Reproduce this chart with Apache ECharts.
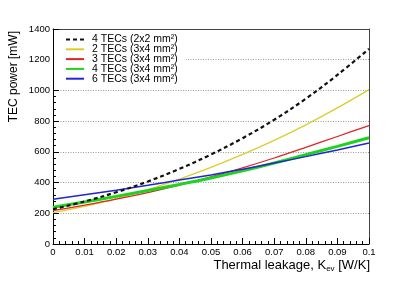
<!DOCTYPE html>
<html>
<head>
<meta charset="utf-8">
<script src="https://cdn.jsdelivr.net/npm/echarts@6/dist/echarts.min.js"></script>
<style>
html,body{margin:0;padding:0;background:#fff;}
#c{width:411px;height:281px;}
</style>
</head>
<body>
<div id="c"></div>
<script>
// Data
var xValues = [0, 0.01, 0.02, 0.03, 0.04, 0.05, 0.06, 0.07, 0.08, 0.09, 0.1];
var seriesNames = ['4 TECs (2x2 mm²)', '2 TECs (3x4 mm²)', '3 TECs (3x4 mm²)', '4 TECs (3x4 mm²)', '6 TECs (3x4 mm²)'];
var tec4small = [226, 277, 337, 407, 489, 583, 689, 809, 946, 1101, 1271];
var tec2 = [204, 245, 296, 354, 423, 499, 583, 675, 776, 886, 1005];
var tec3 = [217, 253, 292, 335, 383, 437, 496, 560, 629, 700, 771];
var tec4 = [239, 274, 310, 348, 388, 430, 476, 527, 581, 636, 692];
var tec6 = [291, 320, 350, 382, 416, 450, 487, 527, 569, 612, 658];
var xTicks = ['0', '0.01', '0.02', '0.03', '0.04', '0.05', '0.06', '0.07', '0.08', '0.09', '0.1'];
var yTicks = ['0', '200', '400', '600', '800', '1000', '1200', '1400'];

function pairs(ys) { return xValues.map(function (x, i) { return [x, ys[i]]; }); }

var FONT = 'Liberation Sans';
var chart = echarts.init(document.getElementById('c'), null, {renderer: 'canvas'});

var styles = [
  {color: '#111111', width: 2.2, type: [4, 3]},
  {color: '#d8cf2c', width: 1.3, type: 'solid'},
  {color: '#e02424', width: 1.3, type: 'solid'},
  {color: '#1ed21e', width: 3, type: 'solid'},
  {color: '#2424d0', width: 1.5, type: 'solid'}
];
var dataSets = [tec4small, tec2, tec3, tec4, tec6];

var series = dataSets.map(function (d, i) {
  return {
    name: seriesNames[i],
    type: 'line',
    data: pairs(d),
    smooth: 0.35,
    symbol: 'none',
    color: styles[i].color,
    lineStyle: {color: styles[i].color, width: styles[i].width, type: styles[i].type},
    z: 3 + (i === 0 ? 5 : 0)
  };
});

var option = {
  animation: false,
  backgroundColor: '#ffffff',
  grid: {left: 53, right: 42, top: 29, bottom: 37, containLabel: false},
  legend: {
    orient: 'vertical',
    left: 54, top: 32,
    padding: [2, 8, 2, 11],
    backgroundColor: '#ffffff',
    itemWidth: 18, itemHeight: 10, itemGap: -1.2,
    data: seriesNames,
    itemStyle: {opacity: 0, borderWidth: 0},
    textStyle: {fontFamily: FONT, fontSize: 10.5, color: '#000', padding: [0, 0, 0, 3]},
    z: 10
  },
  xAxis: [{
    type: 'value', min: 0, max: 0.1, interval: 0.01,
    axisLine: {show: true, onZero: false, lineStyle: {color: '#000', width: 1}},
    axisTick: {show: true, inside: true, length: 6, lineStyle: {color: '#000'}},
    minorTick: {show: true, splitNumber: 5, length: 3, lineStyle: {color: '#000'}},
    axisLabel: {fontFamily: FONT, fontSize: 9.5, color: '#000', margin: 3,
      formatter: function (v) { return xTicks[Math.round(v * 100)]; }},
    splitLine: {show: false}
  }, {
    type: 'value', min: 0, max: 0.1, position: 'top',
    axisLine: {show: true, onZero: false, lineStyle: {color: '#444', width: 1}},
    axisTick: {show: false}, axisLabel: {show: false}, splitLine: {show: false}
  }],
  yAxis: [{
    type: 'value', min: 0, max: 1400, interval: 200,
    axisLine: {show: true, onZero: false, lineStyle: {color: '#000', width: 1}},
    axisTick: {show: true, inside: true, length: 6, lineStyle: {color: '#000'}},
    minorTick: {show: true, splitNumber: 5, length: 3, lineStyle: {color: '#000'}},
    axisLabel: {fontFamily: FONT, fontSize: 9.5, color: '#000', margin: 3,
      formatter: function (v) { return yTicks[Math.round(v / 200)]; }},
    splitLine: {show: true, lineStyle: {color: '#999', type: [1, 1.5], width: 1}}
  }, {
    type: 'value', min: 0, max: 1400, position: 'right',
    axisLine: {show: true, onZero: false, lineStyle: {color: '#444', width: 1}},
    axisTick: {show: false}, axisLabel: {show: false}, splitLine: {show: false}
  }],
  graphic: [{
    type: 'text', x: 14, y: 31, rotation: Math.PI / 2,
    style: {text: 'TEC power [mW]', font: '12px "Liberation Sans"', fill: '#000',
      align: 'right', verticalAlign: 'middle'}
  }, {
    type: 'text', x: 370, y: 265,
    style: {
      text: 'Thermal leakage, K{sub|ev} [W/K]',
      font: '13px "Liberation Sans"', fill: '#000', align: 'right', verticalAlign: 'middle',
      rich: {sub: {fontSize: 8, fontFamily: FONT, fill: '#000', verticalAlign: 'bottom', padding: [7, 0, 0, 0]}}
    }
  }],
  series: series
};
chart.setOption(option);
</script>
</body>
</html>
